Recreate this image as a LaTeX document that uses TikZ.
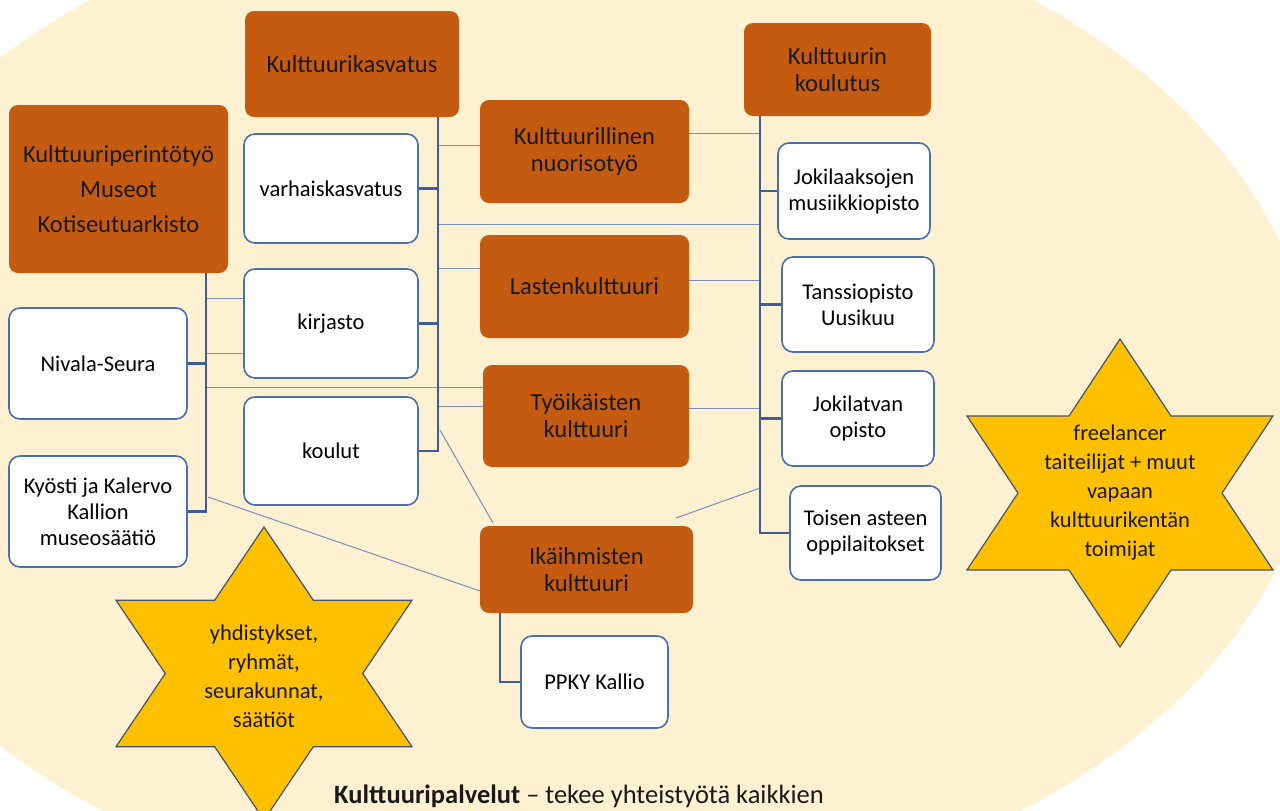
\documentclass[tikz,border=0pt]{standalone}
\usepackage{fontspec}
\setmainfont{Carlito}
\usetikzlibrary{calc}
\definecolor{cream}{HTML}{FEF1D2}
\definecolor{brn}{HTML}{C55A11}
\definecolor{bluebd}{HTML}{4A6FAE}
\definecolor{trunkc}{HTML}{3E5D96}
\definecolor{thinc}{HTML}{7890BA}
\definecolor{starc}{HTML}{FFC000}
\definecolor{starbd}{HTML}{44546A}
\definecolor{txt}{HTML}{1A1A1A}
\tikzset{
  basefont/.style={font=\fontsize{22.5}{26}\selectfont},
  brownbox/.style={font=\fontsize{24.5}{27}\selectfont, fill=brn, draw=none, rounded corners=9pt, text=txt, align=center, inner sep=0pt},
  whitebox/.style={basefont, fill=white, draw=bluebd, line width=1.6pt, rounded corners=11pt, text=black, align=center, inner sep=0pt},
  trunk/.style={draw=trunkc, line width=2.6pt},
  thinline/.style={draw=thinc, line width=1pt},
  starshape/.style={fill=starc, draw=starbd, line width=1.2pt, line join=miter},
  startext/.style={font=\fontsize{22.5}{29}\selectfont, align=center, text=txt, inner sep=0pt}
}
\begin{document}
\begin{tikzpicture}[x=1pt,y=-1pt]
\useasboundingbox (0,0) rectangle (1280,811);
\begin{scope}
\clip (0,0) rectangle (1280,811);
\fill[white] (0,0) rectangle (1280,811);
\fill[cream] (562,402) ellipse [x radius=755, y radius=515];

% boxes
\node[brownbox, minimum width=214, minimum height=106] (kasv) at (352,64) {Kulttuurikasvatus};
\node[brownbox, minimum width=219, minimum height=168, font=\fontsize{24.5}{35}\selectfont] (perinto) at (118.5,189) {Kulttuuriperintötyö\\Museot\\Kotiseutuarkisto};
\node[whitebox, minimum width=174, minimum height=109] (varh) at (331,188.5) {varhaiskasvatus};
\node[whitebox, minimum width=174, minimum height=109] (kirj) at (331,323.5) {kirjasto};
\node[whitebox, minimum width=178, minimum height=111] (nivala) at (98,363.5) {Nivala-Seura};
\node[whitebox, minimum width=174, minimum height=108] (koulut) at (331,451) {koulut};
\node[whitebox, minimum width=178, minimum height=111] (kyosti) at (98,511.5) {Kyösti ja Kalervo\\Kallion\\museosäätiö};
\node[brownbox, minimum width=209, minimum height=103] (nuoriso) at (584.5,151.5) {Kulttuurillinen\\nuorisotyö};
\node[brownbox, minimum width=209, minimum height=103] (lasten) at (584.5,286.5) {Lastenkulttuuri};
\node[brownbox, minimum width=206, minimum height=102] (tyoik) at (586,416) {Työikäisten\\kulttuuri};
\node[brownbox, minimum width=213, minimum height=87] (ikaih) at (586.5,569.5) {Ikäihmisten\\kulttuuri};
\node[whitebox, minimum width=147, minimum height=92] (ppky) at (594.5,682) {PPKY Kallio};
\node[brownbox, minimum width=187, minimum height=93] (koulutus) at (837.5,69.5) {Kulttuurin\\koulutus};
\node[whitebox, minimum width=152, minimum height=96] (jokil) at (854,191) {Jokilaaksojen\\musiikkiopisto};
\node[whitebox, minimum width=152, minimum height=95] (tanssi) at (858,304.5) {Tanssiopisto\\Uusikuu};
\node[whitebox, minimum width=152, minimum height=95] (jokilatva) at (858,418.5) {Jokilatvan\\opisto};
\node[whitebox, minimum width=151, minimum height=94] (toisen) at (865.5,533) {Toisen asteen\\oppilaitokset};

% trunk x positions
\coordinate (tA) at (438,0);
\coordinate (tB) at (206,0);
\coordinate (tC) at (760,0);
\coordinate (tD) at (500,0);

% thin cross connectors
\coordinate (a1) at (438,145);
\coordinate (a2) at (438,224);
\coordinate (a3) at (438,268);
\coordinate (a4) at (438,406);
\coordinate (b1) at (206,298);
\coordinate (b2) at (206,353);
\coordinate (b3) at (206,387);
\coordinate (c1) at (760,133);
\coordinate (c2) at (760,280);
\coordinate (c3) at (760,408);
\coordinate (d1) at (440,430);
\coordinate (d2) at (493,523);
\coordinate (e1) at (208,497);
\coordinate (e2) at (480,591);
\coordinate (f1) at (760,488);
\coordinate (f2) at (676,518);
\draw[thinline] (a1) -- (a1 -| nuoriso.west);
\draw[thinline] (a2) -- (a2 -| tC);
\draw[thinline] (a3) -- (a3 -| lasten.west);
\draw[thinline] (a4) -- (a4 -| tyoik.west);
\draw[thinline] (b1) -- (b1 -| kirj.west);
\draw[thinline] (b2) -- (b2 -| kirj.west);
\draw[thinline] (b3) -- (b3 -| tyoik.west);
\draw[thinline] (c1) -- (c1 -| nuoriso.east);
\draw[thinline] (c2) -- (c2 -| lasten.east);
\draw[thinline] (c3) -- (c3 -| tyoik.east);
\draw[thinline] (d1) -- (d2);
\draw[thinline] (e1) -- (e2);
\draw[thinline] (f1) -- (f2);

% thick trunks
\draw[trunk] (kasv.south -| tA) |- (koulut.east);
\draw[trunk] (varh.east) -- (varh.east -| tA);
\draw[trunk] (kirj.east) -- (kirj.east -| tA);
\draw[trunk] (perinto.south -| tB) |- (kyosti.east);
\draw[trunk] (nivala.east) -- (nivala.east -| tB);
\draw[trunk] (koulutus.south -| tC) |- (toisen.west);
\draw[trunk] (jokil.west) -- (jokil.west -| tC);
\draw[trunk] (tanssi.west) -- (tanssi.west -| tC);
\draw[trunk] (jokilatva.west) -- (jokilatva.west -| tC);
\draw[trunk] (ikaih.south -| tD) |- (ppky.west);

% stars
\draw[starshape] (1120,339) -- (1171,416) -- (1273,416) -- (1222,493) -- (1273,570) -- (1171,570) -- (1120,647) -- (1069,570) -- (967,570) -- (1018,493) -- (967,416) -- (1069,416) -- cycle;
\node[startext] (star1) at (1120,493) {freelancer\\taiteilijat + muut\\vapaan\\kulttuurikentän\\toimijat};
\draw[starshape] (264,527) -- (313.3,600.25) -- (412,600.25) -- (362.7,673.5) -- (412,746.75) -- (313.3,746.75) -- (264,820) -- (214.7,746.75) -- (116,746.75) -- (165.3,673.5) -- (116,600.25) -- (214.7,600.25) -- cycle;
\node[startext] (star2) at (264,676) {yhdistykset,\\ryhmät,\\seurakunnat,\\säätiöt};

\node[font=\fontsize{26.5}{30}\selectfont, anchor=base west, inner sep=0pt, text=txt] (bottom) at (334,803) {\textbf{Kulttuuripalvelut} – tekee yhteistyötä kaikkien};
\end{scope}
\end{tikzpicture}
\end{document}
